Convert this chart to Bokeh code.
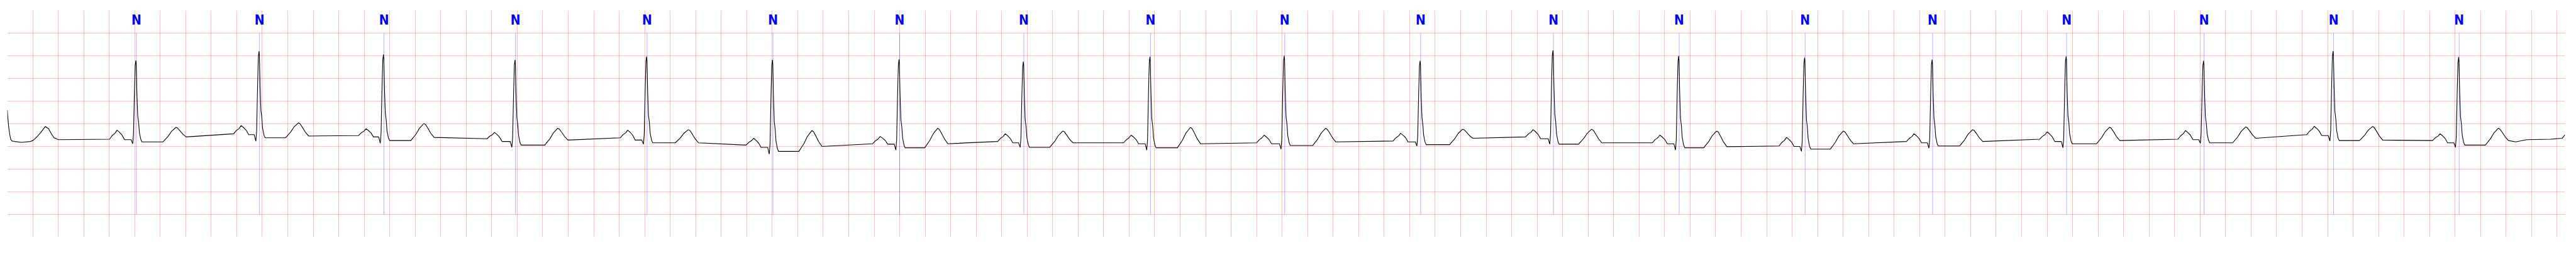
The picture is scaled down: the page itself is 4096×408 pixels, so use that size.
from bokeh.plotting import figure
from bokeh.models import FixedTicker, ColumnDataSource, Range1d
from bokeh.core.properties import value
from bokeh.embed import file_html
from bokeh.resources import INLINE

# ---------------- data (time in s, amplitude in mV) -------------
# tail of the beat preceding the record start
lead_t = [0.000, 0.004, 0.011, 0.020, 0.028, 0.038, 0.058, 0.113, 0.182, 0.202, 0.236,
          0.264, 0.298, 0.325, 0.346, 0.367, 0.401]
lead_v = [0.30, 0.16, -0.06, -0.24, -0.35, -0.38, -0.39, -0.41, -0.39, -0.37, -0.28,
          -0.19, -0.06, -0.11, -0.22, -0.31, -0.35]

r_time = [1.009, 1.975, 2.951, 3.983, 5.015, 6.002, 6.995, 7.970, 8.963, 10.016,
          11.082, 12.124, 13.110, 14.098, 15.098, 16.149, 17.227, 18.243, 19.228]
r_amp = [1.394, 1.600, 1.528, 1.409, 1.482, 1.409, 1.419, 1.369, 1.477, 1.500,
         1.387, 1.619, 1.495, 1.457, 1.414, 1.485, 1.389, 1.604, 1.470]
q_amp = [-0.44, -0.385, -0.43, -0.52, -0.45, -0.67, -0.58, -0.52, -0.58, -0.56,
         -0.49, -0.45, -0.58, -0.61, -0.54, -0.53, -0.43, -0.38, -0.52]
pre_lvl = [-0.34, -0.22, -0.26, -0.33, -0.31, -0.47, -0.44, -0.39, -0.42, -0.42,
           -0.38, -0.29, -0.42, -0.49, -0.39, -0.34, -0.34, -0.24, -0.37]
p_amp = [-0.14, -0.04, -0.11, -0.19, -0.14, -0.32, -0.28, -0.22, -0.25, -0.25,
         -0.21, -0.13, -0.25, -0.30, -0.22, -0.18, -0.15, -0.056, -0.22]
pr_lvl = [-0.35, -0.24, -0.29, -0.39, -0.36, -0.52, -0.45, -0.42, -0.44, -0.44,
          -0.40, -0.33, -0.44, -0.50, -0.42, -0.39, -0.35, -0.26, -0.42]
st_lvl = [-0.40, -0.31, -0.37, -0.47, -0.42, -0.61, -0.53, -0.52, -0.53, -0.48,
          -0.46, -0.45, -0.53, -0.56, -0.49, -0.44, -0.42, -0.37, -0.47]
t_amp = [-0.08, 0.02, 0.005, -0.10, -0.13, -0.15, -0.10, -0.16, -0.08, -0.10,
         -0.12, -0.12, -0.16, -0.16, -0.13, -0.076, -0.07, -0.06, -0.10]
post_lvl = [-0.29, -0.27, -0.30, -0.36, -0.42, -0.50, -0.44, -0.42, -0.44, -0.40,
            -0.32, -0.42, -0.505, -0.44, -0.39, -0.37, -0.32, -0.36, -0.37]
p_off = [-0.148, -0.140, -0.137, -0.161, -0.148, -0.148, -0.148, -0.142, -0.148, -0.158,
         -0.153, -0.156, -0.148, -0.142, -0.142, -0.148, -0.142, -0.148, -0.146]
t_off = [0.314, 0.309, 0.317, 0.335, 0.327, 0.309, 0.303, 0.309, 0.317, 0.325,
         0.333, 0.303, 0.298, 0.303, 0.317, 0.341, 0.330, 0.309, 0.311]

# end of the record after the last beat
tail_t = [19.675, 19.762, 19.947, 20.040, 20.062]
tail_v = [-0.40, -0.35, -0.34, -0.32, -0.24]

# beat annotations
ann_time = [1.013, 1.979, 2.955, 3.987, 5.019, 6.006, 6.999, 7.974, 8.967, 10.020,
            11.086, 12.128, 13.114, 14.102, 15.102, 16.153, 17.231, 18.247, 19.232]
ann_label = ["N"] * 19

# ---------------- wave shapes (offsets in s, fractions of the wave height) -------------
P_RISE = [(-0.059, 0.0), (-0.0376, 0.4), (-0.016, 0.65), (0.0, 1.0)]
P_FALL = [(0.0174, 0.8), (0.0386, 0.5), (0.059, 0.0)]
QRS_UP = [(-0.0188, 0.11), (-0.0115, 0.61), (-0.0054, 0.94), (0.0, 1.0)]
QRS_DN = [(0.0027, 0.95), (0.008, 0.60), (0.0145, 0.32), (0.0215, 0.24),
          (0.028, 0.11), (0.039, 0.03), (0.048, 0.0)]
T_RISE = [(-0.102, 0.0), (-0.062, 0.375), (-0.035, 0.72), (0.0, 1.0)]
T_FALL = [(0.013, 0.93), (0.032, 0.65), (0.054, 0.3), (0.08, 0.0)]

xs = list(lead_t)
ys = list(lead_v)
for i, R in enumerate(r_time):
    tp = R + p_off[i]
    for o, f in P_RISE:
        xs.append(tp + o); ys.append(pre_lvl[i] + f * (p_amp[i] - pre_lvl[i]))
    for o, f in P_FALL:
        xs.append(tp + o); ys.append(pr_lvl[i] + f * (p_amp[i] - pr_lvl[i]))
    xs.append(R - 0.0376); ys.append(pr_lvl[i])
    xs.append(R - 0.025); ys.append(q_amp[i])
    for o, f in QRS_UP:
        xs.append(R + o); ys.append(q_amp[i] + f * (r_amp[i] - q_amp[i]))
    for o, f in QRS_DN:
        xs.append(R + o); ys.append(st_lvl[i] + f * (r_amp[i] - st_lvl[i]))
    tt = R + t_off[i]
    for o, f in T_RISE:
        xs.append(tt + o); ys.append(st_lvl[i] + f * (t_amp[i] - st_lvl[i]))
    for o, f in T_FALL:
        xs.append(tt + o); ys.append(post_lvl[i] + f * (t_amp[i] - post_lvl[i]))
xs += tail_t
ys += tail_v

# ---------------- figure ----------------
p = figure(width=4080, height=392, output_backend="svg", toolbar_location=None,
           x_range=Range1d(0, 20.062), y_range=Range1d(-2.5, 2.5),
           min_border_left=11, min_border_right=2, min_border_top=16, min_border_bottom=16)
p.xaxis.visible = False
p.yaxis.visible = False
p.outline_line_color = None
p.background_fill_color = "white"
p.border_fill_color = "white"

p.xgrid.ticker = FixedTicker(ticks=[round(0.2 * k, 1) for k in range(101)])
p.ygrid.ticker = FixedTicker(ticks=[-2.5, -2.0, -1.5, -1.0, -0.5, 0.0, 0.5, 1.0, 1.5, 2.0])
for g in (p.xgrid, p.ygrid):
    g.grid_line_color = "red"
    g.grid_line_alpha = 0.25
    g.grid_line_width = 1.0

ann_src = ColumnDataSource(dict(t=ann_time, label=ann_label))
p.segment(x0="t", y0=-2.0, x1="t", y1=2.0, source=ann_src,
          line_color="blue", line_alpha=0.45, line_width=0.7)

p.line(xs, ys, line_color="black", line_width=1.1)

p.text(x="t", y=2.291, text="label", source=ann_src,
       text_font=value("DejaVu Sans Condensed"), text_font_style="bold",
       text_font_size="21px", text_color="#0000ff",
       text_align="center", text_baseline="alphabetic")

open("out.html", "w").write(file_html(p, INLINE))
